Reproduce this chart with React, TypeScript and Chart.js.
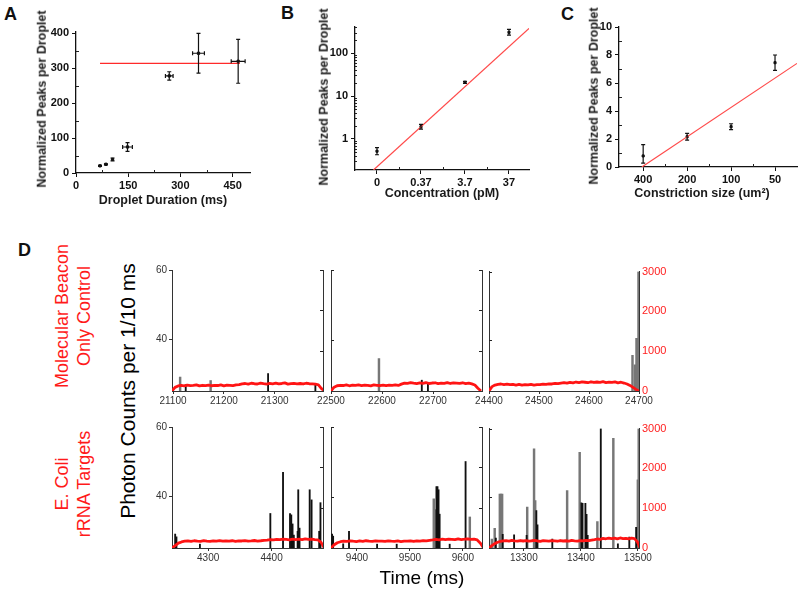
import React, { useEffect, useRef } from 'react';
import { Chart, registerables } from 'chart.js';

Chart.register(...registerables);
const FONT = 'Arial, "Liberation Sans", Helvetica, sans-serif';
Chart.defaults.font.family = FONT;

// ---------------- Panel A ----------------
const durationMs = [69, 86, 105, 148, 268, 352, 466];
const durationErrMs = [0, 0, 0, 14, 11, 17, 20];
const peaksA = [20.5, 25, 39, 74.5, 278, 343, 320];
const peaksAErr = [1.5, 1.5, 4, 12.5, 12, 57, 63];
const fitAX = [69, 471];
const fitAY = [314, 314];
const ticksAX = [0, 150, 300, 450];
const ticksAY = [0, 100, 200, 300, 400];
const minorAX = [75, 225, 375];
const minorAY = [50, 150, 250, 350];

// ---------------- Panel B ----------------
const concLabels = ['0', '0.37', '3.7', '37'];
const peaksB = [0.52, 1.93, 20.8, 303];
const peaksBLow = [0.43, 1.7, 19.6, 260];
const peaksBHigh = [0.63, 2.2, 22.0, 353];
const fitBX = [-0.08, 3.455];
const fitBY = [0.19, 375];
const ticksBY = [1, 10, 100];
const minorBY = [0.2, 0.3, 0.4, 0.5, 0.6, 0.7, 0.8, 0.9, 2, 3, 4, 5, 6, 7, 8, 9, 20, 30, 40, 50, 60, 70, 80, 90, 200, 300, 400];
const minorBX = [0.5, 1.5, 2.5];

// ---------------- Panel C ----------------
const sizeLabels = ['400', '200', '100', '50'];
const peaksC = [0.79, 2.16, 2.88, 7.45];
const peaksCLow = [0.28, 1.92, 2.67, 6.9];
const peaksCHigh = [1.6, 2.4, 3.09, 8.0];
const fitCX = [-0.03, 3.5];
const fitCY = [0, 7.4];
const ticksCY = [0, 2, 4, 6, 8, 10];
const minorCY = [1, 3, 5, 7, 9];
const minorCX = [0.5, 1.5, 2.5];

// ---------------- Panel D ----------------
const ticksD1 = [21100, 21200, 21300];
const ticksD2 = [22500, 22600, 22700];
const ticksD3 = [24400, 24500, 24600, 24700];
const ticksD4 = [4300, 4400];
const ticksD5 = [9400, 9500, 9600];
const ticksD6 = [13300, 13400, 13500];
const ticksDLeft = [40, 60];
const ticksDRight = [0, 1000, 2000, 3000];

const blackT1 = [21125, 21287, 21380];
const blackV1 = [27.1, 30.3, 27.0];
const grayT1 = [21114, 21174];
const grayV1 = [29.3, 28.3];
const redD1 = [0, 90, 125, 140, 128, 146, 132, 138, 150, 126, 142, 134, 148, 130, 140, 136, 152, 128, 144, 138, 132, 150, 160, 178, 186, 170, 192, 180, 174, 196, 182, 170, 188, 178, 194, 176, 186, 200, 172, 184, 190, 178, 186, 174, 192, 180, 176, 170, 150, 60, 0];

const blackT2 = [22678, 22690];
const blackV2 = [28.4, 27.8];
const grayT2 = [22594];
const grayV2 = [34.6];
const redD2 = [0, 95, 130, 142, 136, 150, 130, 146, 138, 152, 134, 144, 140, 128, 150, 142, 136, 148, 132, 146, 140, 150, 138, 170, 196, 188, 206, 194, 184, 202, 190, 210, 186, 198, 204, 182, 196, 190, 208, 186, 200, 194, 188, 204, 182, 196, 178, 150, 70, 0];

const blackT3: number[] = [];
const blackV3: number[] = [];
const grayT3 = [24687, 24692, 24695, 24697, 24699];
const grayV3 = [35.7, 32.9, 40.6, 40.6, 60];
const redD3 = [0, 110, 150, 168, 176, 160, 172, 158, 164, 150, 166, 148, 160, 154, 168, 150, 162, 158, 172, 166, 180, 176, 190, 184, 198, 210, 196, 218, 204, 226, 212, 230, 220, 208, 232, 214, 226, 218, 234, 210, 224, 216, 228, 206, 220, 200, 176, 140, 90, 40, 0];

const blackT4 = [4248, 4250, 4287, 4398, 4418, 4429, 4431, 4433, 4435, 4441, 4442, 4444, 4460, 4463, 4475, 4477];
const blackV4 = [29.3, 28.5, 26.4, 35.2, 47.0, 35.2, 34.8, 32.2, 29.0, 30.1, 42.0, 31.0, 42.0, 39.1, 30.1, 38.3];
const grayT4: number[] = [];
const grayV4: number[] = [];
const redD4 = [0, 60, 120, 150, 168, 174, 162, 180, 170, 166, 182, 172, 164, 178, 170, 184, 168, 176, 172, 180, 166, 178, 174, 182, 170, 176, 186, 172, 180, 190, 196, 208, 200, 214, 206, 220, 212, 204, 222, 210, 218, 206, 224, 212, 220, 208, 200, 140, 0];

const blackT5 = [9353, 9355, 9374, 9385, 9438, 9475, 9550, 9552, 9554, 9556, 9575, 9605];
const blackV5 = [29.3, 28.7, 26.5, 30.1, 26.4, 26.4, 42.9, 42.9, 42.0, 35.0, 26.4, 50.1];
const grayT5 = [9545, 9547, 9613];
const grayV5 = [39.4, 36.3, 34.2];
const redD5 = [0, 80, 130, 156, 170, 164, 178, 168, 160, 174, 166, 180, 170, 162, 176, 168, 172, 164, 178, 170, 166, 174, 160, 172, 168, 176, 164, 178, 170, 182, 176, 190, 200, 212, 204, 218, 208, 222, 214, 206, 224, 210, 218, 228, 212, 220, 200, 120, 0];

const blackT6 = [13251, 13263, 13283, 13305, 13322, 13324, 13350, 13401, 13403, 13408, 13410, 13412, 13435, 13465, 13485, 13497];
const blackV6 = [28.2, 29.3, 29.1, 29.0, 36.2, 32.0, 27.9, 38.4, 38.3, 38.3, 35.1, 29.0, 60.0, 26.5, 28.5, 31.3];
const grayT6 = [13244, 13249, 13258, 13260, 13262, 13306, 13318, 13320, 13376, 13398, 13429, 13457, 13500, 13501.5];
const grayV6 = [27.9, 31.0, 41.0, 41.0, 41.0, 37.2, 54.1, 39.1, 42.0, 53.1, 33.0, 57.2, 45.1, 60];
const redD6 = [0, 60, 110, 145, 165, 178, 186, 174, 190, 180, 172, 188, 176, 184, 170, 182, 190, 176, 168, 184, 178, 172, 186, 180, 170, 188, 176, 182, 174, 190, 180, 172, 186, 178, 192, 184, 198, 210, 226, 218, 240, 232, 250, 236, 246, 228, 252, 238, 244, 230, 248, 236, 160, 0];

const Y_MIN = 25.3;
const Y_MAX = 60;
const Y2_MAX = 3000;

// ---------------- helpers ----------------
const fitW = (n: number) => (s: any) => { s.width = n; };
const fitH = (n: number) => (s: any) => { s.height = n; };
const setTicks = (vals: number[]) => (s: any) => { s.ticks = vals.map((v) => ({ value: v })); };
const plain = (v: number) => String(v);

function innerTicks(list: { axis: string; values: number[]; len?: number }[]) {
  return {
    id: 'innerTicks',
    afterDraw(chart: any) {
      const { ctx, chartArea: ca } = chart;
      ctx.save();
      ctx.lineWidth = 1;
      ctx.strokeStyle = '#222';
      for (const item of list) {
        const s = chart.scales[item.axis];
        if (!s) continue;
        const len = item.len || 3;
        for (const v of item.values) {
          const p = s.getPixelForValue(v);
          ctx.beginPath();
          if (s.isHorizontal()) {
            const px = Math.round(p) + 0.5;
            ctx.moveTo(px, ca.bottom);
            ctx.lineTo(px, ca.bottom - len);
          } else {
            const py = Math.round(p) + 0.5;
            const x = s.position === 'right' ? ca.right : ca.left;
            ctx.moveTo(x, py);
            ctx.lineTo(s.position === 'right' ? x - len : x + len, py);
          }
          ctx.stroke();
        }
      }
      ctx.restore();
    },
  };
}

function errorBars(cfg: { x: number[]; y: number[]; yLow: number[]; yHigh: number[]; xLow?: number[]; xHigh?: number[]; cap: number }) {
  return {
    id: 'errorBars',
    afterDatasetsDraw(chart: any) {
      const ctx = chart.ctx;
      const xs = chart.scales.x;
      const ys = chart.scales.y;
      ctx.save();
      ctx.strokeStyle = '#111';
      ctx.lineWidth = 1.2;
      cfg.x.forEach((xv, i) => {
        const px = xs.getPixelForValue(xv);
        const py = ys.getPixelForValue(cfg.y[i]);
        const y1 = ys.getPixelForValue(cfg.yLow[i]);
        const y2 = ys.getPixelForValue(cfg.yHigh[i]);
        const c = cfg.cap;
        ctx.beginPath();
        ctx.moveTo(px, y1); ctx.lineTo(px, y2);
        ctx.moveTo(px - c, y1); ctx.lineTo(px + c, y1);
        ctx.moveTo(px - c, y2); ctx.lineTo(px + c, y2);
        if (cfg.xLow && cfg.xHigh && cfg.xLow[i] !== cfg.xHigh[i]) {
          const x1 = xs.getPixelForValue(cfg.xLow[i]);
          const x2 = xs.getPixelForValue(cfg.xHigh[i]);
          ctx.moveTo(x1, py); ctx.lineTo(x2, py);
          ctx.moveTo(x1, py - c); ctx.lineTo(x1, py + c);
          ctx.moveTo(x2, py - c); ctx.lineTo(x2, py + c);
        }
        ctx.stroke();
      });
      ctx.restore();
    },
  };
}

type Pad = { l: number; r: number; t: number; b: number };
type Rect = { L: number; R: number; T: number; B: number };

// axes take the side paddings as their own boxes (so labels are not clipped)
function baseOptions(pad: Pad, rightAxis: boolean, scales: any) {
  return {
    responsive: false,
    animation: false,
    events: [],
    layout: { autoPadding: false, padding: { left: 0, right: rightAxis ? 0 : pad.r, top: pad.t, bottom: 0 } },
    plugins: { legend: { display: false }, tooltip: { enabled: false } },
    scales,
  };
}

function abcAxis(pad: Pad, horizontal: boolean, type: string, min: number, max: number, ticks: number[], labels?: string[]) {
  return {
    type,
    min,
    max,
    bounds: 'data',
    offset: false,
    afterFit: horizontal ? fitH(pad.b) : fitW(pad.l),
    afterBuildTicks: setTicks(ticks),
    grid: { drawOnChartArea: false, drawTicks: true, tickLength: 4, color: '#111', lineWidth: 1, offset: false },
    border: { display: true, color: '#111', width: 1.3 },
    ticks: {
      font: { size: 11, weight: 'bold', family: FONT },
      color: '#111',
      padding: horizontal ? 2 : 3,
      maxRotation: 0,
      autoSkip: false,
      callback: (v: number) => {
        if (labels) {
          const idx = Math.round(v);
          return labels[idx] !== undefined ? labels[idx] : '';
        }
        return String(v);
      },
    },
  };
}

// ---------------- chart configs ----------------
const padA: Pad = { l: 40, r: 12, t: 8, b: 22 };
const rectA: Rect = { L: 76, R: 250, T: 30, B: 173 };
const buildA = () => ({
  type: 'scatter',
  data: {
    datasets: [
      {
        data: durationMs.map((x, i) => ({ x, y: peaksA[i] })),
        backgroundColor: '#111', borderColor: '#111', pointStyle: 'rect', pointRadius: 1.6, order: 1,
      },
      {
        type: 'line',
        data: fitAX.map((x, i) => ({ x, y: fitAY[i] })),
        borderColor: '#ff2a2a', borderWidth: 1.2, pointRadius: 0, showLine: true, order: 0,
      },
    ],
  },
  options: baseOptions(padA, false, {
    x: abcAxis(padA, true, 'linear', 0, 500, ticksAX),
    y: abcAxis(padA, false, 'linear', 0, 405, ticksAY),
  }),
  plugins: [
    errorBars({
      x: durationMs, y: peaksA,
      yLow: peaksA.map((v, i) => v - peaksAErr[i]), yHigh: peaksA.map((v, i) => v + peaksAErr[i]),
      xLow: durationMs.map((v, i) => v - durationErrMs[i]), xHigh: durationMs.map((v, i) => v + durationErrMs[i]),
      cap: 2,
    }),
    innerTicks([{ axis: 'x', values: minorAX, len: 3 }, { axis: 'y', values: minorAY, len: 3 }]),
  ],
});

const padB: Pad = { l: 30, r: 10, t: 10, b: 22 };
const rectB: Rect = { L: 355, R: 529, T: 27, B: 170 };
const posB = concLabels.map((_, i) => i);
const buildB = () => ({
  type: 'scatter',
  data: {
    datasets: [
      {
        data: posB.map((x, i) => ({ x, y: peaksB[i] })),
        backgroundColor: '#111', borderColor: '#111', pointStyle: 'rect', pointRadius: 1.5, order: 1,
      },
      {
        type: 'line',
        data: fitBX.map((x, i) => ({ x, y: fitBY[i] })),
        borderColor: '#ff4a4a', borderWidth: 1.2, pointRadius: 0, showLine: true, order: 0,
      },
    ],
  },
  options: baseOptions(padB, false, {
    x: abcAxis(padB, true, 'linear', -0.5, 3.455, posB, concLabels),
    y: abcAxis(padB, false, 'logarithmic', 0.19, 403, ticksBY),
  }),
  plugins: [
    errorBars({ x: posB, y: peaksB, yLow: peaksBLow, yHigh: peaksBHigh, cap: 2 }),
    innerTicks([{ axis: 'x', values: minorBX, len: 3 }, { axis: 'y', values: minorBY, len: 2 }]),
  ],
});

const padC: Pad = { l: 28, r: 3, t: 10, b: 22 };
const rectC: Rect = { L: 619, R: 797, T: 27, B: 167 };
const posC = sizeLabels.map((_, i) => i);
const buildC = () => ({
  type: 'scatter',
  data: {
    datasets: [
      {
        data: posC.map((x, i) => ({ x, y: peaksC[i] })),
        backgroundColor: '#111', borderColor: '#111', pointStyle: 'rect', pointRadius: 1.5, order: 1,
      },
      {
        type: 'line',
        data: fitCX.map((x, i) => ({ x, y: fitCY[i] })),
        borderColor: '#ff4a4a', borderWidth: 1.2, pointRadius: 0, showLine: true, order: 0,
      },
    ],
  },
  options: baseOptions(padC, false, {
    x: abcAxis(padC, true, 'linear', -0.55, 3.5, posC, sizeLabels),
    y: abcAxis(padC, false, 'linear', 0, 10, ticksCY),
  }),
  plugins: [
    errorBars({ x: posC, y: peaksC, yLow: peaksCLow, yHigh: peaksCHigh, cap: 2 }),
    innerTicks([{ axis: 'x', values: minorCX, len: 3 }, { axis: 'y', values: minorCY, len: 3 }]),
  ],
});

type Trace = {
  rect: Rect; xMin: number; xMax: number; xTicks: number[];
  redStart: number; redStep: number; red: number[];
  blackT: number[]; blackV: number[]; grayT: number[]; grayV: number[];
  leftLabels: boolean; rightLabels: boolean;
};

const padD: Pad = { l: 30, r: 34, t: 8, b: 20 };
const row1 = { T: 270, B: 391 };
const row2 = { T: 427, B: 548 };
const col1 = { L: 172, R: 323 };
const col2 = { L: 331, R: 482 };
const col3 = { L: 489, R: 639 };

const traces: Trace[] = [
  { rect: { ...col1, ...row1 }, xMin: 21098, xMax: 21395, xTicks: ticksD1, redStart: 21098, redStep: 6, red: redD1, blackT: blackT1, blackV: blackV1, grayT: grayT1, grayV: grayV1, leftLabels: true, rightLabels: false },
  { rect: { ...col2, ...row1 }, xMin: 22500, xMax: 22796, xTicks: ticksD2, redStart: 22500, redStep: 6, red: redD2, blackT: blackT2, blackV: blackV2, grayT: grayT2, grayV: grayV2, leftLabels: false, rightLabels: false },
  { rect: { ...col3, ...row1 }, xMin: 24400, xMax: 24700, xTicks: ticksD3, redStart: 24400, redStep: 6, red: redD3, blackT: blackT3, blackV: blackV3, grayT: grayT3, grayV: grayV3, leftLabels: false, rightLabels: true },
  { rect: { ...col1, ...row2 }, xMin: 4243, xMax: 4481, xTicks: ticksD4, redStart: 4243, redStep: 5, red: redD4, blackT: blackT4, blackV: blackV4, grayT: grayT4, grayV: grayV4, leftLabels: true, rightLabels: false },
  { rect: { ...col2, ...row2 }, xMin: 9351, xMax: 9636, xTicks: ticksD5, redStart: 9351, redStep: 6, red: redD5, blackT: blackT5, blackV: blackV5, grayT: grayT5, grayV: grayV5, leftLabels: false, rightLabels: false },
  { rect: { ...col3, ...row2 }, xMin: 13239, xMax: 13502, xTicks: ticksD6, redStart: 13239, redStep: 5, red: redD6, blackT: blackT6, blackV: blackV6, grayT: grayT6, grayV: grayV6, leftLabels: false, rightLabels: true },
];

function buildTrace(t: Trace) {
  const axisColor = '#333';
  const inner: { axis: string; values: number[]; len?: number }[] = [];
  if (!t.leftLabels) inner.push({ axis: 'y', values: ticksDLeft, len: 3 });
  if (!t.rightLabels) inner.push({ axis: 'y2', values: [1000, 2000, 3000], len: 3 });
  return {
    type: 'bar',
    data: {
      datasets: [
        {
          type: 'line',
          data: t.red.map((v, i) => ({ x: t.redStart + i * t.redStep, y: v })),
          xAxisID: 'x', yAxisID: 'y2',
          borderColor: '#ff1414', borderWidth: 2.8, pointRadius: 0, order: 0, borderJoinStyle: 'round',
        },
        {
          type: 'bar',
          data: t.blackT.map((x, i) => ({ x, y: t.blackV[i] })),
          xAxisID: 'x', yAxisID: 'y',
          backgroundColor: '#111', barThickness: 1.2, base: Y_MIN, grouped: false, order: 1,
        },
        {
          type: 'bar',
          data: t.grayT.map((x, i) => ({ x, y: t.grayV[i] })),
          xAxisID: 'x', yAxisID: 'y',
          backgroundColor: '#777', barThickness: 1.8, base: Y_MIN, grouped: false, order: 2,
        },
      ],
    },
    options: baseOptions(padD, true, {
      x: {
        type: 'linear', min: t.xMin, max: t.xMax, bounds: 'data', offset: false,
        afterFit: fitH(padD.b), afterBuildTicks: setTicks(t.xTicks),
        grid: { drawOnChartArea: false, drawTicks: true, tickLength: 3, color: axisColor, offset: false },
        border: { display: true, color: axisColor, width: 1 },
        ticks: { font: { size: 10, family: FONT }, color: '#333', padding: 1, maxRotation: 0, autoSkip: false, callback: plain },
      },
      y: {
        type: 'linear', position: 'left', min: Y_MIN, max: Y_MAX, bounds: 'data',
        afterFit: fitW(padD.l), afterBuildTicks: setTicks(ticksDLeft),
        grid: { drawOnChartArea: false, drawTicks: t.leftLabels, tickLength: 3, color: axisColor },
        border: { display: true, color: axisColor, width: 1 },
        ticks: { display: t.leftLabels, font: { size: 10, family: FONT }, color: '#333', padding: 2, callback: plain },
      },
      y2: {
        type: 'linear', position: 'right', min: 0, max: Y2_MAX, bounds: 'data',
        afterFit: fitW(padD.r), afterBuildTicks: setTicks(ticksDRight),
        grid: { drawOnChartArea: false, drawTicks: false, color: axisColor },
        border: { display: true, color: axisColor, width: 1 },
        ticks: { display: t.rightLabels, font: { size: 11, family: FONT }, color: '#ff2020', padding: 3, callback: plain },
      },
    }),
    plugins: [innerTicks(inner)],
  };
}

// ---------------- components ----------------
function ChartBox({ rect, pad, build }: { rect: Rect; pad: Pad; build: () => any }) {
  const ref = useRef<HTMLCanvasElement>(null);
  const w = rect.R - rect.L + pad.l + pad.r;
  const h = rect.B - rect.T + pad.t + pad.b;
  useEffect(() => {
    const chart = new Chart(ref.current as HTMLCanvasElement, build());
    return () => chart.destroy();
  }, []);
  return (
    <canvas
      ref={ref}
      width={w}
      height={h}
      style={{ position: 'absolute', left: rect.L - pad.l, top: rect.T - pad.t, width: w, height: h }}
    />
  );
}

function Txt({ x, y, size, color = '#111', bold = false, rotate = false, lh = 1, children }: any) {
  return (
    <div
      style={{
        position: 'absolute', left: x, top: y,
        transform: rotate ? 'translate(-50%, -50%) rotate(-90deg)' : 'translate(-50%, -50%)',
        whiteSpace: 'nowrap', textAlign: 'center', fontFamily: FONT,
        fontSize: size, color, fontWeight: bold ? 'bold' : 'normal', lineHeight: lh,
      }}
    >
      {children}
    </div>
  );
}

export default function App() {
  return (
    <div style={{ position: 'absolute', left: 0, top: 0, width: 800, height: 590, background: '#fff', overflow: 'hidden' }}>
      <ChartBox rect={rectA} pad={padA} build={buildA} />
      <ChartBox rect={rectB} pad={padB} build={buildB} />
      <ChartBox rect={rectC} pad={padC} build={buildC} />
      {traces.map((t, i) => (
        <ChartBox key={i} rect={t.rect} pad={padD} build={() => buildTrace(t)} />
      ))}

      <Txt x={10.5} y={13.5} size={18} bold>A</Txt>
      <Txt x={287.5} y={12.5} size={18} bold>B</Txt>
      <Txt x={567.5} y={13.5} size={18} bold>C</Txt>
      <Txt x={24.5} y={249.5} size={18} bold>D</Txt>

      <Txt x={42} y={99} size={12.5} bold rotate color="#1a1a1a">Normalized Peaks per Droplet</Txt>
      <Txt x={163} y={200} size={12.5} bold color="#1a1a1a">Droplet Duration (ms)</Txt>
      <Txt x={324} y={97} size={12.5} bold rotate color="#1a1a1a">Normalized Peaks per Droplet</Txt>
      <Txt x={442} y={193} size={12.5} bold color="#1a1a1a">Concentration (pM)</Txt>
      <Txt x={594} y={96} size={12.5} bold rotate color="#1a1a1a">Normalized Peaks per Droplet</Txt>
      <Txt x={702} y={193} size={12.5} bold color="#1a1a1a">Constriction size (um²)</Txt>

      <Txt x={73} y={316} size={18} rotate color="#ff1a1a" lh="22px">Molecular Beacon<br />Only Control</Txt>
      <Txt x={73} y={484} size={18} rotate color="#ff1a1a" lh="22px">E. Coli<br />rRNA Targets</Txt>
      <Txt x={127} y={391} size={21} rotate color="#000">Photon Counts per 1/10 ms</Txt>
      <Txt x={422} y={577} size={19} color="#000">Time (ms)</Txt>
    </div>
  );
}
